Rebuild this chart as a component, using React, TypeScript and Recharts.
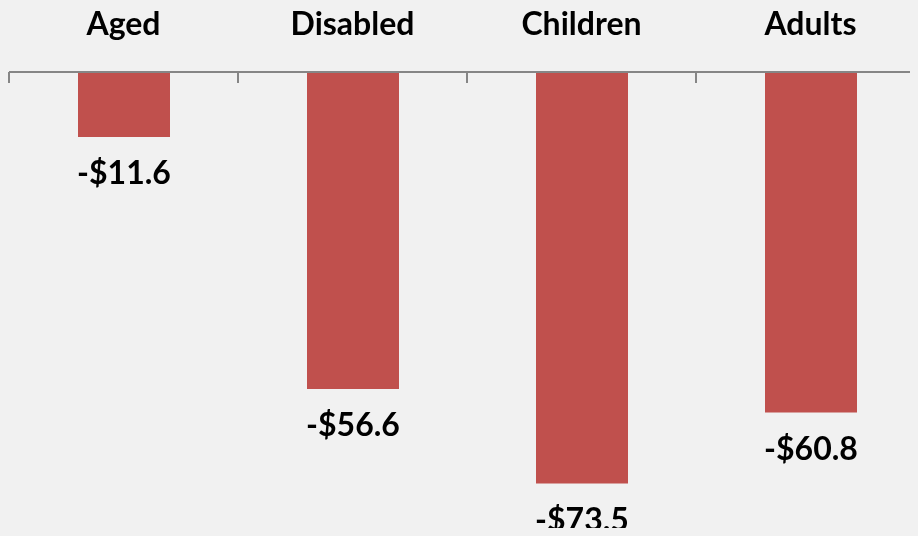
import React from 'react';
import { BarChart, Bar, XAxis, YAxis, LabelList } from 'recharts';

const categories = ['Aged', 'Disabled', 'Children', 'Adults'];
const changes = [-11.6, -56.6, -73.5, -60.8];
const yDomain = [-80, 0];

const data = categories.map((name, i) => ({ name, value: changes[i] }));

const FONT = 'Lato, "Open Sans", sans-serif';
const CHART_W = 928;
const CHART_H = 536;
const MARGIN = { top: 0, right: 3, bottom: 16, left: 9 };
const BAND = (CHART_W - MARGIN.left - MARGIN.right) / categories.length;
const AXIS_H = 72;

// category name above the axis, tick mark at the boundaries of each band
const CategoryTick = (props: any) => {
  const { x, payload } = props;
  const left = x - BAND / 2;
  return (
    <g>
      <line x1={left} x2={left} y1={AXIS_H} y2={AXIS_H + 11} stroke="#868686" strokeWidth={2} />
      <line x1={left + BAND} x2={left + BAND} y1={AXIS_H} y2={AXIS_H + 11} stroke="#868686" strokeWidth={2} />
      <text x={x} y={22} textAnchor="middle" dominantBaseline="central"
        fontFamily={FONT} fontWeight={700} fontSize={32} fill="#000">
        {payload.value}
      </text>
    </g>
  );
};

const ValueLabel = (props: any) => {
  const { x, y, width, height, value } = props;
  const bottom = Math.max(y, y + height);
  return (
    <text x={x + width / 2} y={bottom + 35} textAnchor="middle" dominantBaseline="central"
      fontFamily={FONT} fontWeight={700} fontSize={32} fill="#000">
      {`-$${Math.abs(value).toFixed(1)}`}
    </text>
  );
};

export default function App() {
  return (
    <div style={{ width: 918, height: CHART_H, overflow: 'hidden', margin: -8 }}>
      <div style={{ position: 'fixed', inset: 0, background: '#f1f1f1', zIndex: -1 }} />
      <BarChart width={CHART_W} height={CHART_H} data={data} margin={MARGIN} barSize={92}>
        <XAxis dataKey="name" orientation="top" height={AXIS_H} tickLine={false}
          axisLine={{ stroke: '#868686', strokeWidth: 2 }} tick={<CategoryTick />} interval={0} />
        <YAxis hide domain={yDomain} />
        <Bar dataKey="value" fill="#c0504d" isAnimationActive={false}>
          <LabelList dataKey="value" content={<ValueLabel />} />
        </Bar>
      </BarChart>
    </div>
  );
}
